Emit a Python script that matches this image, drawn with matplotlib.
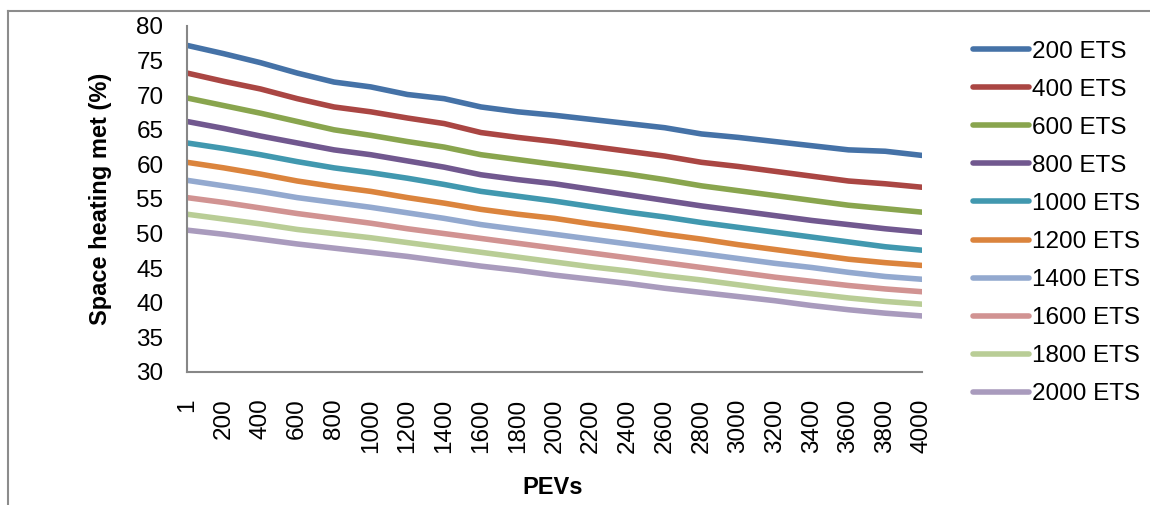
import matplotlib
matplotlib.use("Agg")
import matplotlib.pyplot as plt
from matplotlib.lines import Line2D

plt.rcParams['font.family'] = ['Liberation Sans', 'DejaVu Sans']

categories = ['1', '200', '400', '600', '800', '1000', '1200', '1400', '1600', '1800', '2000',
              '2200', '2400', '2600', '2800', '3000', '3200', '3400', '3600', '3800', '4000']

series_names = ['200 ETS', '400 ETS', '600 ETS', '800 ETS', '1000 ETS',
                '1200 ETS', '1400 ETS', '1600 ETS', '1800 ETS', '2000 ETS']

ets_200 = [77.2, 76.0, 74.7, 73.2, 71.9, 71.2, 70.1, 69.5, 68.3, 67.6, 67.1, 66.5, 65.9, 65.3, 64.4, 63.9, 63.3, 62.7, 62.1, 61.9, 61.3]
ets_400 = [73.2, 72.0, 70.9, 69.5, 68.3, 67.6, 66.7, 65.9, 64.6, 63.9, 63.3, 62.6, 61.9, 61.2, 60.3, 59.7, 59.0, 58.3, 57.6, 57.2, 56.7]
ets_600 = [69.6, 68.5, 67.4, 66.2, 65.0, 64.2, 63.3, 62.5, 61.4, 60.7, 60.0, 59.3, 58.6, 57.8, 56.9, 56.2, 55.5, 54.8, 54.1, 53.6, 53.1]
ets_800 = [66.2, 65.2, 64.1, 63.1, 62.1, 61.4, 60.5, 59.6, 58.5, 57.8, 57.2, 56.4, 55.6, 54.8, 54.0, 53.3, 52.6, 51.9, 51.3, 50.7, 50.2]
ets_1000 = [63.1, 62.3, 61.4, 60.4, 59.5, 58.8, 58.0, 57.1, 56.1, 55.4, 54.7, 53.9, 53.1, 52.4, 51.6, 50.9, 50.2, 49.5, 48.8, 48.1, 47.6]
ets_1200 = [60.3, 59.5, 58.6, 57.6, 56.8, 56.1, 55.2, 54.4, 53.5, 52.8, 52.2, 51.4, 50.7, 49.9, 49.2, 48.4, 47.7, 47.0, 46.3, 45.8, 45.4]
ets_1400 = [57.7, 56.9, 56.1, 55.2, 54.5, 53.8, 53.0, 52.2, 51.3, 50.6, 49.9, 49.2, 48.5, 47.8, 47.1, 46.4, 45.7, 45.1, 44.4, 43.8, 43.4]
ets_1600 = [55.2, 54.5, 53.7, 52.9, 52.2, 51.5, 50.7, 50.0, 49.3, 48.6, 47.9, 47.2, 46.5, 45.8, 45.1, 44.4, 43.7, 43.1, 42.5, 42.0, 41.6]
ets_1800 = [52.8, 52.1, 51.4, 50.6, 50.0, 49.4, 48.7, 48.0, 47.3, 46.6, 45.9, 45.2, 44.6, 43.9, 43.3, 42.6, 41.9, 41.3, 40.7, 40.2, 39.8]
ets_2000 = [50.5, 49.9, 49.2, 48.5, 47.9, 47.3, 46.7, 46.0, 45.3, 44.7, 44.0, 43.4, 42.8, 42.1, 41.5, 40.9, 40.3, 39.6, 39.0, 38.5, 38.1]

colors = ['#4572A7', '#AA4643', '#89A54E', '#71588F', '#4198AF',
          '#DB843D', '#93A9CF', '#D19392', '#B9CD96', '#A99BBD']

all_series = [ets_200, ets_400, ets_600, ets_800, ets_1000,
              ets_1200, ets_1400, ets_1600, ets_1800, ets_2000]

fig = plt.figure(figsize=(11.5, 5.05), dpi=100)
ax = fig.add_axes([187/1150, 1-372/505, (922-187)/1150, (372-26)/505])

x = list(range(len(categories)))
handles = []
for name, vals, c in zip(series_names, all_series, colors):
    ln, = ax.plot(x, vals, color=c, lw=4.0, solid_capstyle='round',
                  solid_joinstyle='round', label=name)
    handles.append(ln)

ax.set_xlim(0, len(categories) - 1)
ax.set_ylim(30, 80)
ax.set_yticks(range(30, 81, 5))
ax.set_xticks(x)
ax.set_xticklabels(categories, rotation=90, va='top', ha='center')
ax.tick_params(axis='both', length=0, labelsize=17.5)
ax.tick_params(axis='x', pad=19)
ax.tick_params(axis='y', pad=17)

for s in ['top', 'right']:
    ax.spines[s].set_visible(False)
for s in ['left', 'bottom']:
    ax.spines[s].set_color('#878787')
    ax.spines[s].set_linewidth(1.5)

fig.text(100/1150, 1-199/505, 'Space heating met (%)', rotation=90, fontsize=17,
         fontweight='bold', ha='center', va='center')
fig.text(553/1150, 1-488/505, 'PEVs', fontsize=17, fontweight='bold',
         ha='center', va='center')

leg = fig.legend(handles=handles, loc='upper left',
                 bbox_to_anchor=(963/1150, 1-31/505), frameon=False,
                 fontsize=17.5, handlelength=2.3, handletextpad=0.15,
                 labelspacing=0.66, borderaxespad=0)

# chart-area border (top and left visible)
fig.add_artist(Line2D([8/1150, 1], [1-11/505, 1-11/505], color='#8c8c8c', lw=1.5))
fig.add_artist(Line2D([8/1150, 8/1150], [0, 1-11/505], color='#8c8c8c', lw=1.5))

fig.savefig('out.png', dpi=100)
